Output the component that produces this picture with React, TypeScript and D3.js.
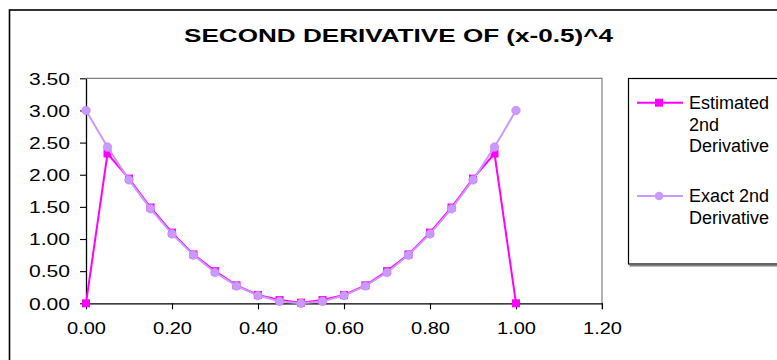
import React, { useRef, useEffect } from "react";
import * as d3 from "d3";

// x positions of the samples
const xs = [0, 0.05, 0.1, 0.15, 0.2, 0.25, 0.3, 0.35, 0.4, 0.45, 0.5, 0.55, 0.6, 0.65, 0.7, 0.75, 0.8, 0.85, 0.9, 0.95, 1.0];

const estimated = [0.0, 2.33, 1.94, 1.49, 1.1, 0.76, 0.5, 0.28, 0.13, 0.05, 0.01, 0.05, 0.13, 0.28, 0.5, 0.76, 1.1, 1.49, 1.94, 2.33, 0.0];
const exact = [3.0, 2.43, 1.92, 1.47, 1.08, 0.75, 0.48, 0.27, 0.12, 0.03, 0.0, 0.03, 0.12, 0.27, 0.48, 0.75, 1.08, 1.47, 1.92, 2.43, 3.0];

const xTicks = [0, 0.2, 0.4, 0.6, 0.8, 1.0, 1.2];
const yTicks = [0, 0.5, 1.0, 1.5, 2.0, 2.5, 3.0, 3.5];

const title = "SECOND DERIVATIVE OF (x-0.5)^4";
const seriesNames = [["Estimated", "2nd", "Derivative"], ["Exact 2nd", "Derivative"]];

const MAGENTA = "#ff00ff";
const LILAC = "#cc99ff";
const FONT = "'Liberation Sans', Arial, sans-serif";

export default function App() {
  const svgRef = useRef<SVGSVGElement>(null);

  useEffect(() => {
    const svg = d3.select(svgRef.current);
    svg.selectAll("*").remove();

    const W = 777;
    const H = 360;
    const plot = { left: 86, right: 602, top: 78.3, bottom: 303.3 };

    svg.append("rect").attr("width", W).attr("height", H).attr("fill", "#fff");

    // outer chart frame (runs off the page on the right and bottom)
    svg.append("rect")
      .attr("x", 9.5).attr("y", 10)
      .attr("width", W + 20).attr("height", H + 20)
      .attr("fill", "none").attr("stroke", "#000").attr("stroke-width", 1.6);

    svg.append("text")
      .attr("x", 398.5).attr("y", 42.3)
      .attr("text-anchor", "middle")
      .attr("font-family", FONT).attr("font-weight", "bold").attr("font-size", 18.5)
      .attr("textLength", 429).attr("lengthAdjust", "spacingAndGlyphs")
      .text(title);

    const x = d3.scaleLinear().domain([0, 1.2]).range([plot.left, plot.right]);
    const y = d3.scaleLinear().domain([0, 3.5]).range([plot.bottom, plot.top]);

    // plot frame: grey top/right
    svg.append("path")
      .attr("d", `M${plot.left},${plot.top}H${plot.right}V${plot.bottom + 6}`)
      .attr("fill", "none").attr("stroke", "#808080").attr("stroke-width", 1.2);

    const yAxis = svg.append("g")
      .attr("transform", `translate(${plot.left},0)`)
      .call(d3.axisLeft(y).tickValues(yTicks).tickFormat(d3.format(".2f")).tickSize(6).tickSizeOuter(0).tickPadding(10));
    const xAxis = svg.append("g")
      .attr("transform", `translate(0,${plot.bottom})`)
      .call(d3.axisBottom(x).tickValues(xTicks).tickFormat(d3.format(".2f")).tickSize(6).tickSizeOuter(0).tickPadding(20));

    [yAxis, xAxis].forEach((a) => {
      a.select(".domain").attr("stroke", "#000").attr("stroke-width", 1.3);
      a.selectAll(".tick line").attr("stroke", "#000").attr("stroke-width", 1.1);
      a.attr("font-family", FONT).attr("font-size", 16);
      a.selectAll(".tick text").attr("fill", "#000").attr("lengthAdjust", "spacingAndGlyphs");
    });
    yAxis.selectAll(".tick text").attr("dy", "5.7").attr("textLength", 41);
    xAxis.selectAll(".tick text").attr("dy", "0").attr("y", 31).attr("textLength", 39);

    const rowsEst = xs.map((v, i) => ({ x: v, y: estimated[i] }));
    const rowsExa = xs.map((v, i) => ({ x: v, y: exact[i] }));
    const line = d3.line<{ x: number; y: number }>().x((d) => x(d.x)).y((d) => y(d.y));

    svg.append("path").datum(rowsEst).attr("d", line)
      .attr("fill", "none").attr("stroke", MAGENTA).attr("stroke-width", 2);
    svg.selectAll("rect.est").data(rowsEst).join("rect")
      .attr("class", "est")
      .attr("x", (d) => x(d.x) - 4).attr("y", (d) => y(d.y) - 4)
      .attr("width", 8).attr("height", 8)
      .attr("fill", MAGENTA);

    svg.append("path").datum(rowsExa).attr("d", line)
      .attr("fill", "none").attr("stroke", LILAC).attr("stroke-width", 2);
    svg.selectAll("circle.exa").data(rowsExa).join("circle")
      .attr("class", "exa")
      .attr("cx", (d) => x(d.x)).attr("cy", (d) => y(d.y)).attr("r", 4.3)
      .attr("fill", LILAC).attr("stroke", "#bb88ee").attr("stroke-width", 0.6);

    // legend
    const lg = svg.append("g");
    lg.append("rect")
      .attr("x", 629.5).attr("y", 265).attr("width", 200).attr("height", 1.5)
      .attr("fill", "#808080");
    lg.append("rect")
      .attr("x", 628.5).attr("y", 78.5).attr("width", 200).attr("height", 185.5)
      .attr("fill", "#fff").attr("stroke", "#000").attr("stroke-width", 1.2);

    const entries = [
      { color: MAGENTA, lineY: 102.7, lines: seriesNames[0], base: 109, marker: "square" },
      { color: LILAC, lineY: 196, lines: seriesNames[1], base: 202, marker: "circle" },
    ];
    entries.forEach((e) => {
      lg.append("line")
        .attr("x1", 637).attr("x2", 683).attr("y1", e.lineY).attr("y2", e.lineY)
        .attr("stroke", e.color).attr("stroke-width", 2);
      if (e.marker === "square") {
        lg.append("rect").attr("x", 655).attr("y", e.lineY - 4).attr("width", 8).attr("height", 8).attr("fill", e.color);
      } else {
        lg.append("circle").attr("cx", 659).attr("cy", e.lineY).attr("r", 4.3).attr("fill", e.color);
      }
      e.lines.forEach((t, i) => {
        lg.append("text")
          .attr("x", 689).attr("y", e.base + i * 21.5)
          .attr("font-family", FONT).attr("font-size", 18)
          .attr("fill", "#000")
          .text(t);
      });
    });
  }, []);

  return (
    <svg
      ref={svgRef}
      width={777}
      height={360}
      style={{ position: "absolute", left: 0, top: 0, overflow: "hidden" }}
    />
  );
}
